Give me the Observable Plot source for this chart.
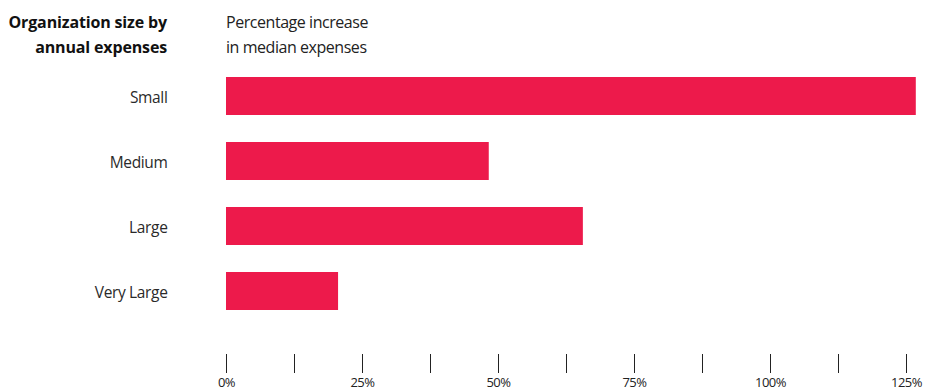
<!DOCTYPE html>
<html>
<head>
<meta charset="utf-8">
<script src="https://cdn.jsdelivr.net/npm/d3@7"></script>
<script src="https://cdn.jsdelivr.net/npm/@observablehq/plot@0.6"></script>
<style>
  html, body { margin: 0; padding: 0; background: #fff; }
  body { width: 925px; height: 390px; overflow: hidden; font-family: "Open Sans", sans-serif; }
  #header { position: relative; height: 54px; }
  #left { position: absolute; right: 758px; top: 10px; text-align: right; font-weight: bold; font-size: 16px; letter-spacing: -0.15px; line-height: 24.5px; color: #111; white-space: nowrap; }
  #right { position: absolute; left: 226px; top: 10px; font-size: 16px; letter-spacing: -0.45px; line-height: 24.5px; color: #222; white-space: nowrap; }
  svg { overflow: visible; }
  svg text { font-family: "Open Sans", sans-serif; }
  g[aria-label="y-axis tick label"] text { letter-spacing: -0.35px; }
  g[aria-label="x-axis tick label"] text { letter-spacing: -0.5px; }
</style>
</head>
<body>
<div id="header">
  <div id="left">Organization size by<br>annual expenses</div>
  <div id="right">Percentage increase<br>in median expenses</div>
</div>
<div id="chart"></div>
<script>
const categories = ["Small", "Medium", "Large", "Very Large"];
const values = [126.8, 48.3, 65.6, 20.6];
const tickValues = [0, 12.5, 25, 37.5, 50, 62.5, 75, 87.5, 100, 112.5, 125];

const data = categories.map((c, i) => ({category: c, value: values[i]}));

const chart = Plot.plot({
  width: 925,
  height: 336,
  marginLeft: 226,
  marginRight: 19,
  marginTop: 22,
  marginBottom: 80,
  style: {background: "#fff", overflow: "visible"},
  x: {domain: [0, 125]},
  y: {domain: categories, paddingInner: 0.418, paddingOuter: 0},
  marks: [
    Plot.barX(data, {x: "value", y: "category", fill: "#ED1A4B"}),
    Plot.axisY({tickSize: 0, tickPadding: 59, dy: 1.5, fontSize: 15.5, label: null, color: "#2a2a2a"}),
    Plot.axisX({ticks: tickValues, tickSize: 19, dy: 44, tickPadding: 4, fontSize: 13, label: null,
      color: "#222",
      tickFormat: d => (d % 25 === 0 ? d + "%" : "")})
  ]
});
document.getElementById("chart").appendChild(chart);
</script>
</body>
</html>
